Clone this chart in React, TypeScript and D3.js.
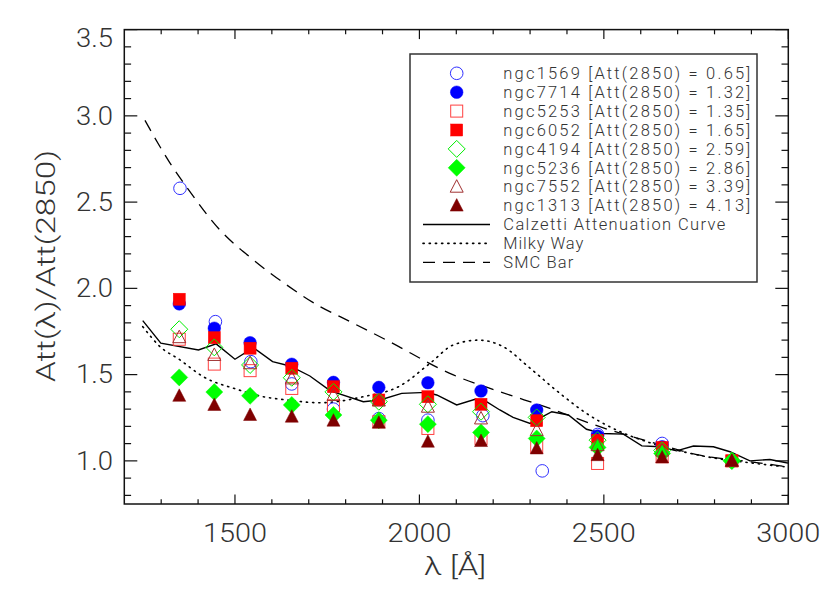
import React from "react";
import * as d3 from "d3";

// ---------- data ----------
const lambdaBins = [1349, 1444, 1541, 1654, 1767, 1890, 2023, 2167, 2318, 2483, 2658, 2847];
const lambda1569 = [1351, 1447, 1543, 1654, 1767, 1890, 2023, 2172, 2333, 2483, 2658, 2847];

const ngc1569 = [2.58, 1.807, 1.575, 1.446, 1.3, 1.245, 1.236, 1.262, 0.942, 1.153, 1.101, 1.0];
const ngc7714 = [1.91, 1.769, 1.685, 1.56, 1.455, 1.426, 1.453, 1.405, 1.295, 1.144, 1.082, 1.0];
const ngc5253 = [1.705, 1.561, 1.523, 1.42, 1.32, 1.227, 1.188, 1.13, 1.082, 0.985, 1.024, 1.0];
const ngc6052 = [1.937, 1.714, 1.653, 1.537, 1.43, 1.353, 1.372, 1.328, 1.233, 1.12, 1.078, 1.0];
const ngc4194 = [1.763, 1.658, 1.556, 1.482, 1.4, 1.343, 1.328, 1.285, 1.252, 1.12, 1.06, 1.0];
const ngc5236 = [1.484, 1.399, 1.377, 1.324, 1.266, 1.236, 1.213, 1.165, 1.13, 1.078, 1.043, 1.0];
const ngc7552 = [1.717, 1.614, 1.566, 1.478, 1.382, 1.35, 1.314, 1.246, 1.178, 1.091, 1.06, 1.0];
const ngc1313 = [1.377, 1.324, 1.266, 1.256, 1.233, 1.221, 1.111, 1.115, 1.072, 1.033, 1.02, 1.0];

const galaxyNames = ["ngc1569", "ngc7714", "ngc5253", "ngc6052", "ngc4194", "ngc5236", "ngc7552", "ngc1313"];
const att2850 = ["0.65", "1.32", "1.35", "1.65", "2.59", "2.86", "3.39", "4.13"];

const calzLambda = [1250, 1299, 1401, 1449, 1500, 1550, 1602, 1649, 1703, 1753, 1767, 1848, 1893, 1952, 2020, 2047, 2101, 2151, 2182, 2218, 2254, 2300, 2359, 2404, 2453, 2498, 2553, 2603, 2652, 2697, 2743, 2797, 2842, 2896, 2950, 2995, 3000];
const calzValue = [1.813, 1.682, 1.643, 1.678, 1.589, 1.656, 1.575, 1.55, 1.492, 1.415, 1.4, 1.343, 1.353, 1.391, 1.397, 1.382, 1.324, 1.357, 1.343, 1.295, 1.252, 1.217, 1.285, 1.266, 1.183, 1.159, 1.155, 1.087, 1.082, 1.058, 1.086, 1.082, 1.053, 1.0, 1.008, 0.989, 0.988];

const mwLambda = [1250, 1297, 1351, 1414, 1505, 1568, 1640, 1731, 1848, 1947, 2029, 2092, 2160, 2227, 2300, 2381, 2453, 2535, 2625, 2715, 2806, 2896, 2995, 3000];
const mwValue = [1.778, 1.662, 1.585, 1.488, 1.415, 1.376, 1.353, 1.337, 1.372, 1.434, 1.566, 1.672, 1.7, 1.662, 1.537, 1.391, 1.275, 1.178, 1.105, 1.053, 1.014, 0.989, 0.965, 0.964];

const smcLambda = [1256, 1324, 1369, 1459, 1550, 1640, 1731, 1785, 1911, 2092, 2218, 2354, 2489, 2625, 2760, 2896, 2995, 3000];
const smcValue = [2.974, 2.726, 2.587, 2.339, 2.165, 2.02, 1.894, 1.836, 1.7, 1.498, 1.401, 1.304, 1.198, 1.111, 1.033, 0.995, 0.965, 0.963];

const xMajorTicks = [1500, 2000, 2500, 3000];
const yMajorTicks = [1.0, 1.5, 2.0, 2.5, 3.0, 3.5];

// ---------- layout ----------
const W = 830;
const H = 593;
const X0 = 124.3, X1 = 788.3, Y0 = 29.6, Y1 = 504;
const FONT = "Roboto, 'DejaVu Sans', sans-serif";
const TXT = "#333";

type Sym = { shape: "circle" | "square" | "diamond" | "triangle"; filled: boolean; color: string };
const symbols: Sym[] = [
  { shape: "circle", filled: false, color: "#3030ff" },
  { shape: "circle", filled: true, color: "#0000ff" },
  { shape: "square", filled: false, color: "#ff4040" },
  { shape: "square", filled: true, color: "#ff0000" },
  { shape: "diamond", filled: false, color: "#00ee00" },
  { shape: "diamond", filled: true, color: "#00ff00" },
  { shape: "triangle", filled: false, color: "#a03030" },
  { shape: "triangle", filled: true, color: "#7f0000" },
];

function Marker({ s, cx, cy }: { s: Sym; cx: number; cy: number }) {
  const fill = s.filled ? s.color : "none";
  const stroke = s.color;
  const sw = s.filled ? 0.5 : 1;
  if (s.shape === "circle") return <circle cx={cx} cy={cy} r={6.3} fill={fill} stroke={stroke} strokeWidth={sw} />;
  if (s.shape === "square") return <rect x={cx - 6} y={cy - 6} width={12} height={12} fill={fill} stroke={stroke} strokeWidth={sw} />;
  if (s.shape === "diamond") {
    const d = 8.5;
    return <path d={`M${cx},${cy - d}L${cx + d},${cy}L${cx},${cy + d}L${cx - d},${cy}Z`} fill={fill} stroke={stroke} strokeWidth={sw} />;
  }
  return <path d={`M${cx},${cy - 7}L${cx + 6.5},${cy + 5.5}L${cx - 6.5},${cy + 5.5}Z`} fill={fill} stroke={stroke} strokeWidth={sw} />;
}

export default function App() {
  const x = d3.scaleLinear().domain([1200, 3000]).range([X0, X1]);
  const y = d3.scaleLinear().domain([0.75, 3.5]).range([Y1, Y0]);

  const seriesValues = [ngc1569, ngc7714, ngc5253, ngc6052, ngc4194, ngc5236, ngc7552, ngc1313];

  const line = (ls: number[], vs: number[], curve: any) =>
    d3.line<number>().x((_, i) => x(ls[i])).y((v) => y(v)).curve(curve)(vs) as string;

  const xMinor = d3.range(1300, 3000, 100).filter((v) => v % 500 !== 0);
  const yMinor = d3.range(8, 35).map((v) => v / 10).filter((v) => Math.round(v * 10) % 5 !== 0);

  const lx0 = 410, ly0 = 54, lw = 347, lh = 228;
  const rowY = (i: number) => 73.3 + i * 18.9;

  return (
    <svg width={W} height={H} style={{ display: "block", position: "absolute", left: 0, top: 0, background: "#fff" }}>
      <rect x={0} y={0} width={W} height={H} fill="#fff" />
      {/* curves */}
      <clipPath id="plotclip">
        <rect x={X0} y={Y0} width={X1 - X0} height={Y1 - Y0} />
      </clipPath>
      <g clipPath="url(#plotclip)">
        <path d={line(smcLambda, smcValue, d3.curveMonotoneX)} fill="none" stroke="#000" strokeWidth={1.3} strokeDasharray="12,8" />
        <path d={line(mwLambda, mwValue, d3.curveMonotoneX)} fill="none" stroke="#000" strokeWidth={1.6} strokeDasharray="1.2,5" strokeLinecap="round" />
        <path d={line(calzLambda, calzValue, d3.curveLinear)} fill="none" stroke="#000" strokeWidth={1.4} />
      </g>
      {/* markers */}
      {seriesValues.map((vals, si) => (
        <g key={si}>
          {vals.map((v, i) => (
            <Marker key={i} s={symbols[si]} cx={x(si === 0 ? lambda1569[i] : lambdaBins[i])} cy={y(v)} />
          ))}
        </g>
      ))}
      {/* frame */}
      <rect x={X0} y={Y0} width={X1 - X0} height={Y1 - Y0} fill="none" stroke="#111" strokeWidth={1.5} />
      {/* x ticks */}
      {xMajorTicks.map((t) => (
        <g key={"xm" + t}>
          <line x1={x(t)} x2={x(t)} y1={Y1} y2={Y1 - 9.5} stroke="#111" strokeWidth={1.2} />
          <line x1={x(t)} x2={x(t)} y1={Y0} y2={Y0 + 9.5} stroke="#111" strokeWidth={1.2} />
          <text x={x(t)} y={533} dy="0.35em" textAnchor="middle" fontFamily={FONT} fontWeight={300} fontSize={25} fill={TXT} textLength={64} lengthAdjust="spacingAndGlyphs">
            {t}
          </text>
        </g>
      ))}
      {xMinor.map((t) => (
        <g key={"xn" + t}>
          <line x1={x(t)} x2={x(t)} y1={Y1} y2={Y1 - 4.7} stroke="#111" strokeWidth={1.2} />
          <line x1={x(t)} x2={x(t)} y1={Y0} y2={Y0 + 4.7} stroke="#111" strokeWidth={1.2} />
        </g>
      ))}
      {/* y ticks */}
      {yMajorTicks.map((t) => (
        <g key={"ym" + t}>
          <line x1={X0} x2={X0 + 13} y1={y(t)} y2={y(t)} stroke="#111" strokeWidth={1.2} />
          <line x1={X1} x2={X1 - 13} y1={y(t)} y2={y(t)} stroke="#111" strokeWidth={1.2} />
          <text x={113} y={t === 3.5 ? 38.5 : y(t)} dy="0.35em" textAnchor="end" fontFamily={FONT} fontWeight={300} fontSize={25} fill={TXT} textLength={37} lengthAdjust="spacingAndGlyphs">
            {t.toFixed(1)}
          </text>
        </g>
      ))}
      {yMinor.map((t) => (
        <g key={"yn" + t}>
          <line x1={X0} x2={X0 + 6.8} y1={y(t)} y2={y(t)} stroke="#111" strokeWidth={1.2} />
          <line x1={X1} x2={X1 - 6.8} y1={y(t)} y2={y(t)} stroke="#111" strokeWidth={1.2} />
        </g>
      ))}
      {/* axis titles */}
      <text x={455} y={566} dy="0.35em" textAnchor="middle" fontFamily={FONT} fontWeight={300} fontSize={25} fill={TXT} textLength={62} lengthAdjust="spacingAndGlyphs">
        λ [Å]
      </text>
      <text transform={`translate(46,266) rotate(-90)`} dy="0.35em" textAnchor="middle" fontFamily={FONT} fontWeight={300} fontSize={25} fill={TXT} textLength={232} lengthAdjust="spacingAndGlyphs">
        Att(λ)/Att(2850)
      </text>
      {/* legend */}
      <rect x={lx0} y={ly0} width={lw} height={lh} fill="#fff" stroke="#333" strokeWidth={1.5} />
      {galaxyNames.map((n, i) => (
        <g key={n}>
          <Marker s={symbols[i]} cx={456.7} cy={rowY(i)} />
          <text x={503.3} y={rowY(i)} dy="0.35em" fontFamily={FONT} fontWeight={300} fontSize={16.5} fill={TXT} textLength={247} lengthAdjust="spacing" style={{ whiteSpace: "pre" }}>
            {`${n} [Att(2850) = ${att2850[i]}]`}
          </text>
        </g>
      ))}
      {[
        { label: "Calzetti Attenuation Curve", dash: "none", w: 222, cap: "butt", sw: 1.4 },
        { label: "Milky Way", dash: "1.2,5", w: 80, cap: "round", sw: 1.6 },
        { label: "SMC Bar", dash: "12,8", w: 70, cap: "butt", sw: 1.3 },
      ].map((l, i) => (
        <g key={l.label}>
          <line x1={423} x2={490} y1={rowY(8 + i)} y2={rowY(8 + i)} stroke="#000" strokeWidth={l.sw} strokeDasharray={l.dash} strokeLinecap={l.cap as any} />
          <text x={503.3} y={rowY(8 + i)} dy="0.35em" fontFamily={FONT} fontWeight={300} fontSize={16.5} fill={TXT} textLength={l.w} lengthAdjust="spacing">
            {l.label}
          </text>
        </g>
      ))}
    </svg>
  );
}
